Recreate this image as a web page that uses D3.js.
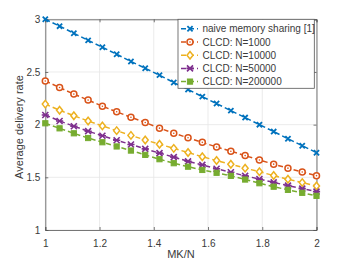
<!DOCTYPE html>
<html><head><meta charset="utf-8">
<script src="https://cdn.jsdelivr.net/npm/d3@7"></script>
<style>
html,body{margin:0;padding:0;background:#fff;}
svg{display:block;font-family:"Liberation Sans",Arial,Helvetica,sans-serif;}
</style></head>
<body><svg id="chart" width="350" height="263"></svg>
<script>
const xValues = d3.range(20).map(i => 1 + i / 19);
const seriesNames = ["naive memory sharing [1]", "CLCD: N=1000", "CLCD: N=10000", "CLCD: N=50000", "CLCD: N=200000"];
const naive = [3.00, 2.935, 2.868, 2.80, 2.735, 2.668, 2.60, 2.535, 2.47, 2.40, 2.333, 2.266, 2.20, 2.133, 2.067, 2.00, 1.934, 1.866, 1.80, 1.734];
const n1000 = [2.415, 2.352, 2.29, 2.233, 2.175, 2.122, 2.07, 2.02, 1.967, 1.919, 1.875, 1.832, 1.788, 1.748, 1.706, 1.664, 1.625, 1.587, 1.55, 1.516];
const n10000 = [2.195, 2.137, 2.085, 2.035, 1.988, 1.943, 1.898, 1.855, 1.814, 1.775, 1.735, 1.696, 1.659, 1.624, 1.587, 1.553, 1.517, 1.482, 1.45, 1.418];
const n50000 = [2.092, 2.035, 1.985, 1.938, 1.895, 1.852, 1.812, 1.77, 1.73, 1.692, 1.652, 1.618, 1.581, 1.548, 1.514, 1.483, 1.452, 1.421, 1.393, 1.364];
const n200000 = [2.013, 1.965, 1.918, 1.873, 1.833, 1.793, 1.754, 1.713, 1.672, 1.634, 1.601, 1.57, 1.543, 1.514, 1.479, 1.444, 1.411, 1.381, 1.353, 1.324];
const xTicks = [1, 1.2, 1.4, 1.6, 1.8, 2];
const yTicks = [1, 1.5, 2, 2.5, 3];

const seriesData = [naive, n1000, n10000, n50000, n200000];
const colors = ["#0072BD", "#D95319", "#EDB120", "#7E2F8E", "#77AC30"];
const markers = ["x", "circle", "diamond", "star", "square"];

const svg = d3.select("#chart");
const L = 45.3, R = 316.5, T = 19.3, B = 230;
const x = d3.scaleLinear().domain([1, 2]).range([L, R]);
const y = d3.scaleLinear().domain([1, 3]).range([B, T]);
const textColor = "#3a3a3a";

// grid
const g = svg.append("g");
g.selectAll(".gx").data(xTicks).enter().append("line")
  .attr("x1", d => x(d)).attr("x2", d => x(d)).attr("y1", T).attr("y2", B)
  .attr("stroke", "#e6e6e6").attr("stroke-width", 0.8);
g.selectAll(".gy").data(yTicks).enter().append("line")
  .attr("y1", d => y(d)).attr("y2", d => y(d)).attr("x1", L).attr("x2", R)
  .attr("stroke", "#e6e6e6").attr("stroke-width", 0.8);

// axes
const axisColor = "#555555";
const xAxis = svg.append("g").attr("transform", `translate(0,${B})`)
  .call(d3.axisBottom(x).tickValues(xTicks).tickFormat(d3.format("")).tickSize(-3).tickPadding(9.5));
const yAxis = svg.append("g").attr("transform", `translate(${L},0)`)
  .call(d3.axisLeft(y).tickValues(yTicks).tickFormat(d3.format("")).tickSize(-3).tickPadding(5));
const xTop = svg.append("g").attr("transform", `translate(0,${T})`)
  .call(d3.axisTop(x).tickValues(xTicks).tickFormat("").tickSize(-3));
const yRight = svg.append("g").attr("transform", `translate(${R},0)`)
  .call(d3.axisRight(y).tickValues(yTicks).tickFormat("").tickSize(-3));
[xAxis, yAxis, xTop, yRight].forEach(a => {
  a.select(".domain").attr("stroke", axisColor).attr("stroke-width", 0.8);
  a.selectAll(".tick line").attr("stroke", axisColor).attr("stroke-width", 0.8);
  a.selectAll("text").attr("fill", textColor).style("font-size", "10px")
    .style("font-family", "'Liberation Sans', Arial, sans-serif");
});

// labels
svg.append("text").attr("x", (L + R) / 2).attr("y", 258).attr("text-anchor", "middle")
  .attr("fill", textColor).style("font-size", "11px").text("MK/N");
svg.append("text").attr("transform", "translate(23,127) rotate(-90)").attr("text-anchor", "middle")
  .attr("fill", textColor).style("font-size", "11px").text("Average delivery rate");

// marker drawing
function drawMarker(sel, type, color, s) {
  if (type === "x") {
    sel.append("path").attr("d", `M${-s},${-s}L${s},${s}M${-s},${s}L${s},${-s}`)
      .attr("stroke", color).attr("stroke-width", 1.8).attr("fill", "none");
  } else if (type === "circle") {
    sel.append("circle").attr("r", s).attr("fill", "#fff").attr("stroke", color).attr("stroke-width", 1.5);
    sel.append("circle").attr("r", 0.8).attr("fill", color);
  } else if (type === "diamond") {
    sel.append("path").attr("d", `M0,${-s * 1.25}L${s},0L0,${s * 1.25}L${-s},0Z`)
      .attr("fill", "#fff").attr("stroke", color).attr("stroke-width", 1.5);
  } else if (type === "star") {
    sel.append("path").attr("d", `M${-s},${-s}L${s},${s}M${-s},${s}L${s},${-s}M${-s * 1.2},0L${s * 1.2},0`)
      .attr("stroke", color).attr("stroke-width", 1.6).attr("fill", "none");
  } else if (type === "square") {
    sel.append("rect").attr("x", -s).attr("y", -s).attr("width", 2 * s).attr("height", 2 * s)
      .attr("fill", color).attr("stroke", color).attr("stroke-width", 1);
  }
}

const line = d3.line().x(d => x(d[0])).y(d => y(d[1]));
seriesData.forEach((vals, i) => {
  const pts = xValues.map((xv, j) => [xv, vals[j]]);
  svg.append("path").datum(pts).attr("d", line).attr("fill", "none")
    .attr("stroke", colors[i]).attr("stroke-width", 1.5).attr("stroke-dasharray", "5,3");
  pts.forEach(p => {
    const m = svg.append("g").attr("transform", `translate(${x(p[0])},${y(p[1])})`);
    drawMarker(m, markers[i], colors[i], markers[i] === "square" ? 2.6 : (markers[i] === "x" ? 2.6 : 3));
  });
});

// legend
const lg = svg.append("g");
lg.append("rect").attr("x", 178).attr("y", T).attr("width", 136.3).attr("height", 69)
  .attr("fill", "#fff").attr("stroke", axisColor).attr("stroke-width", 0.8);
seriesNames.forEach((name, i) => {
  const cy = 28.8 + i * 13.2;
  lg.append("line").attr("x1", 181).attr("x2", 198).attr("y1", cy).attr("y2", cy)
    .attr("stroke", colors[i]).attr("stroke-width", 1.5).attr("stroke-dasharray", "5,3");
  const m = lg.append("g").attr("transform", `translate(190,${cy})`);
  drawMarker(m, markers[i], colors[i], markers[i] === "square" ? 2.6 : (markers[i] === "x" ? 2.6 : 3));
  lg.append("text").attr("x", 202.5).attr("y", cy + 3.6).attr("fill", textColor)
    .style("font-size", "10px").text(name);
});
</script>
</body></html>
